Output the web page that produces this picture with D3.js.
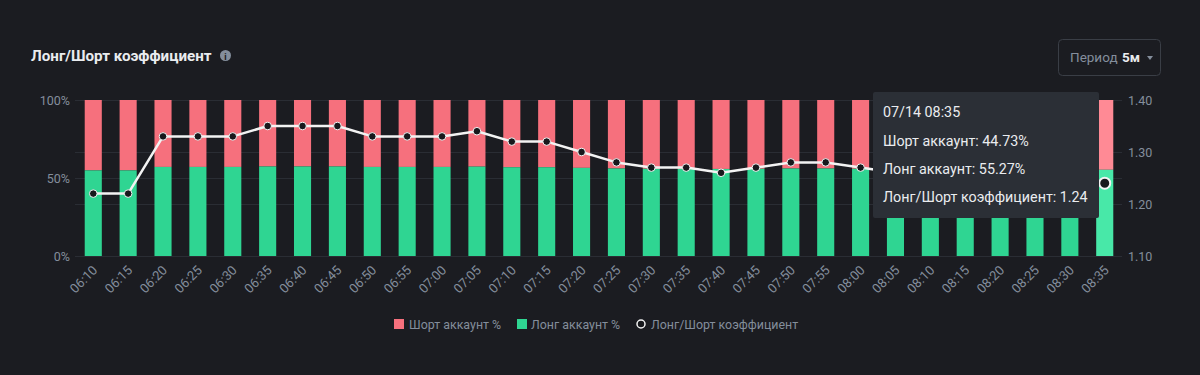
<!DOCTYPE html>
<html>
<head>
<meta charset="utf-8">
<script src="https://cdn.jsdelivr.net/npm/d3@7"></script>
<style>
  html, body { margin: 0; padding: 0; background: #1b1c21; }
  svg { display: block; font-family: Roboto, "Noto Sans", sans-serif; }
</style>
</head>
<body>
<div id="chart"></div>
<script>
// Data
const times = ["06:10","06:15","06:20","06:25","06:30","06:35","06:40","06:45","06:50","06:55",
  "07:00","07:05","07:10","07:15","07:20","07:25","07:30","07:35","07:40","07:45",
  "07:50","07:55","08:00","08:05","08:10","08:15","08:20","08:25","08:30","08:35"];
const longPct = [54.9,54.9,57.1,57.1,57.1,57.4,57.4,57.4,57.1,57.1,
  57.1,57.3,56.9,56.9,56.5,56.1,55.9,55.9,55.8,55.9,
  56.1,56.1,55.9,55.8,55.6,55.6,55.4,55.4,55.4,55.27];
const ratio = [1.22,1.22,1.33,1.33,1.33,1.35,1.35,1.35,1.33,1.33,
  1.33,1.34,1.32,1.32,1.30,1.28,1.27,1.27,1.26,1.27,
  1.28,1.28,1.27,1.26,1.25,1.25,1.24,1.24,1.24,1.24];
const leftTicks = [0, 50, 100];
const rightTicks = [1.10, 1.20, 1.30, 1.40];

const W = 1200, H = 375;
const plotTop = 100, plotBottom = 256, plotLeft = 75, plotRight = 1122;
const RED = "#f6707d", GREEN = "#2fd592";
const GREY = "#848e9c", TEXT = "#eaecef";

const svg = d3.select("#chart").append("svg").attr("width", W).attr("height", H);
svg.append("rect").attr("width", W).attr("height", H).attr("fill", "#1b1c21");

// Title + info icon
svg.append("text").attr("x", 31).attr("y", 61).attr("font-size", 15.2).attr("font-weight", 700)
  .attr("fill", TEXT).text("Лонг/Шорт коэффициент");
svg.append("circle").attr("cx", 225.5).attr("cy", 55.5).attr("r", 5.5).attr("fill", GREY);
svg.append("text").attr("x", 225.5).attr("y", 59.5).attr("text-anchor", "middle").attr("font-size", 9)
  .attr("font-weight", 700).attr("fill", "#1b1c21").text("i");

// Period selector
const per = svg.append("g");
per.append("rect").attr("x", 1058.5).attr("y", 39.5).attr("width", 102).attr("height", 36).attr("rx", 4)
  .attr("fill", "none").attr("stroke", "#3a3e46");
per.append("text").attr("x", 1070).attr("y", 62).attr("font-size", 13.5).attr("fill", GREY).text("Период");
per.append("text").attr("x", 1122).attr("y", 62).attr("font-size", 13.5).attr("font-weight", 700).attr("fill", TEXT).text("5м");
per.append("path").attr("d", "M1147,56 L1153,56 L1150,60 Z").attr("fill", GREY);

// Scales
const x = d3.scaleBand().domain(times).range([plotLeft + 1, plotRight]).paddingInner(0.51).paddingOuter(0.25);
const yL = d3.scaleLinear().domain([0, 100]).range([plotBottom, plotTop]);
const yR = d3.scaleLinear().domain([1.10, 1.40]).range([plotBottom, plotTop]);

// Gridlines
const grid = svg.append("g").attr("stroke", "#2a2d34").attr("stroke-width", 1);
const gridYs = [...new Set([...leftTicks.map(yL), ...rightTicks.map(yR)].map(Math.round))];
grid.selectAll("line").data(gridYs).join("line")
  .attr("x1", plotLeft).attr("x2", plotRight).attr("y1", d => d + 0.5).attr("y2", d => d + 0.5);

// Axes (labels only)
const axL = svg.append("g").attr("transform", `translate(${plotLeft},0)`)
  .call(d3.axisLeft(yL).tickValues(leftTicks).tickFormat(d => d + "%").tickSize(0).tickPadding(5));
const axR = svg.append("g").attr("transform", `translate(${plotRight},0)`)
  .call(d3.axisRight(yR).tickValues(rightTicks).tickFormat(d3.format(".2f")).tickSize(0).tickPadding(6));
[axL, axR].forEach(a => {
  a.select(".domain").remove();
  a.selectAll("text").attr("fill", GREY).attr("font-size", 12.5).attr("font-family", "Roboto, sans-serif");
});

const axX = svg.append("g").attr("transform", `translate(0,${plotBottom})`)
  .call(d3.axisBottom(x).tickSize(0).tickPadding(0));
axX.select(".domain").remove();
axX.selectAll("text").attr("fill", GREY).attr("font-size", 13).attr("font-family", "Roboto, sans-serif")
  .attr("text-anchor", "end").attr("dy", 0)
  .attr("transform", "translate(5,15) rotate(-45)");

// Bars
const last = times.length - 1;
const bars = svg.append("g");
bars.selectAll("rect.short").data(times).join("rect").attr("class", "short")
  .attr("x", d => x(d)).attr("width", x.bandwidth())
  .attr("y", yL(100)).attr("height", (d, i) => yL(longPct[i]) - yL(100))
  .attr("fill", (d, i) => i === last ? "#ff8a95" : RED);
bars.selectAll("rect.long").data(times).join("rect").attr("class", "long")
  .attr("x", d => x(d)).attr("width", x.bandwidth())
  .attr("y", (d, i) => yL(longPct[i])).attr("height", (d, i) => yL(0) - yL(longPct[i]))
  .attr("fill", (d, i) => i === last ? "#48e8a8" : GREEN);

// Ratio line
const cx = d => x(d) + x.bandwidth() / 2;
const line = d3.line().x((d, i) => cx(times[i])).y(d => yR(d));
svg.append("path").datum(ratio).attr("d", line)
  .attr("fill", "none").attr("stroke", "#f3f3f3").attr("stroke-width", 2.5).attr("stroke-linejoin", "round");
svg.append("g").selectAll("circle").data(ratio).join("circle")
  .attr("cx", (d, i) => cx(times[i])).attr("cy", d => yR(d))
  .attr("r", (d, i) => i === last ? 5.5 : 3.8)
  .attr("fill", "#17181c").attr("stroke", "#f3f3f3").attr("stroke-width", (d, i) => i === last ? 2 : 1);

// Tooltip
const tt = svg.append("g");
tt.append("rect").attr("x", 873).attr("y", 92).attr("width", 226).attr("height", 126).attr("rx", 2)
  .attr("fill", "#2b2f36");
const ttLines = [
  ["07/14 " + times[last], 117],
  ["Шорт аккаунт: " + (100 - longPct[last]).toFixed(2) + "%", 146],
  ["Лонг аккаунт: " + longPct[last].toFixed(2) + "%", 174],
  ["Лонг/Шорт коэффициент: " + ratio[last].toFixed(2), 202]
];
tt.selectAll("text").data(ttLines).join("text")
  .attr("x", 883).attr("y", d => d[1]).attr("font-size", 14.3).attr("fill", TEXT).text(d => d[0]);

// Legend
const lg = svg.append("g").attr("font-size", 12.4).attr("fill", GREY);
lg.append("rect").attr("x", 394).attr("y", 319).attr("width", 10).attr("height", 10).attr("fill", RED);
lg.append("text").attr("x", 409).attr("y", 328.5).text("Шорт аккаунт %");
lg.append("rect").attr("x", 517).attr("y", 319).attr("width", 10).attr("height", 10).attr("fill", GREEN);
lg.append("text").attr("x", 531).attr("y", 328.5).text("Лонг аккаунт %");
lg.append("circle").attr("cx", 641).attr("cy", 324).attr("r", 4).attr("fill", "#17181c")
  .attr("stroke", "#f3f3f3").attr("stroke-width", 1.5);
lg.append("text").attr("x", 651).attr("y", 328.5).text("Лонг/Шорт коэффициент");
</script>
</body>
</html>
